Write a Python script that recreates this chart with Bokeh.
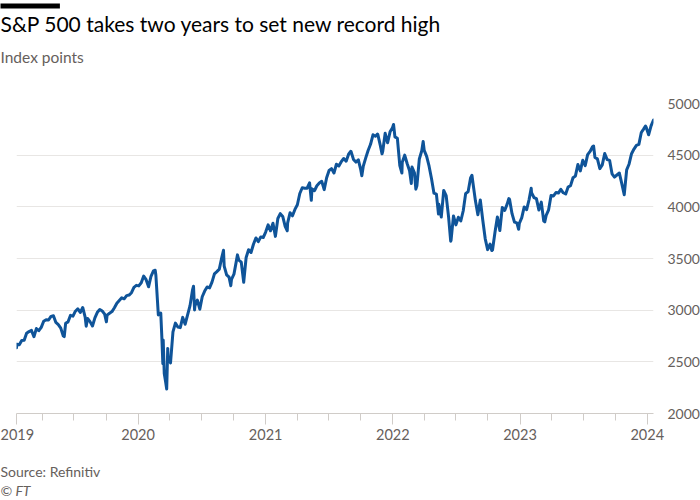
import pandas as pd
from bokeh.plotting import figure
from bokeh.models import (ColumnDataSource, Range1d, FixedTicker, NumeralTickFormatter, Title)
from bokeh.embed import file_html
from bokeh.resources import INLINE

# ---------------- data ----------------
title_text = "S&P 500 takes two years to set new record high"
subtitle_text = "Index points"
source_text = "Source: Refinitiv"
credit_text = "© FT"

# weekly (Friday) closes, starting 2019-01-18
weekly_start = "2019-01-18"
values_2019 = [2671, 2665, 2707, 2708, 2776, 2793, 2804, 2743, 2822, 2801, 2834, 2893, 2907,
               2905, 2940, 2946, 2881, 2860, 2826, 2752, 2873, 2887, 2950, 2942, 2990, 3014,
               2977, 3026, 2932, 2919, 2889, 2847, 2926, 2979, 3007, 2992, 2962, 2952, 2970,
               2986, 3023, 3067, 3093, 3120, 3110, 3141, 3146, 3169, 3221, 3240]
values_2020 = [3235, 3265, 3330, 3295, 3226, 3328, 3380, 3338, 2954, 2972, 2711, 2305, 2541,
               2489, 2790, 2875, 2837, 2831, 2930, 2864, 2955, 3044, 3194, 3041, 3098, 3009,
               3130, 3185, 3225, 3216, 3271, 3351, 3373, 3397, 3508, 3427, 3341, 3319, 3298,
               3348, 3477, 3484, 3465, 3270, 3510, 3585, 3558, 3638, 3699, 3663, 3709, 3703]
values_2021 = [3756, 3825, 3768, 3841, 3714, 3887, 3934, 3907, 3811, 3842, 3943, 3913, 3975,
               4020, 4129, 4185, 4180, 4181, 4233, 4174, 4156, 4204, 4230, 4247, 4166, 4281,
               4352, 4370, 4327, 4412, 4395, 4437, 4468, 4442, 4509, 4535, 4459, 4433, 4455,
               4357, 4391, 4471, 4545, 4605, 4697, 4683, 4698, 4595, 4538, 4712, 4620, 4726, 4766]
values_2022 = [4677, 4663, 4398, 4432, 4500, 4419, 4349, 4385, 4329, 4204, 4463, 4543, 4546,
               4488, 4393, 4272, 4132, 4123, 4024, 3901, 4158, 4109, 3901, 3675, 3912, 3825,
               3899, 3863, 3962, 4130, 4145, 4280, 4228, 4058, 3924, 4067, 3873, 3693, 3586,
               3640, 3583, 3752, 3901, 3771, 3993, 3965, 4026, 4072, 3934, 3852, 3845, 3840]
values_2023 = [3895, 3999, 3973, 4071, 4136, 4090, 4079, 3970, 4046, 3862, 3917, 3971, 4109,
               4105, 4138, 4133, 4169, 4136, 4124, 4192, 4205, 4282, 4299, 4410, 4348, 4450,
               4399, 4505, 4536, 4582, 4478, 4464, 4370, 4406, 4516, 4457, 4450, 4320, 4288,
               4308, 4327, 4224, 4117, 4358, 4415, 4514, 4559, 4595, 4604, 4719, 4755, 4770]
values_2024 = [4697, 4784, 4840]

# intra-week highs/lows visible on the chart
extra_dates = ["2019-01-17", "2019-06-03", "2019-08-05", "2019-10-02", "2020-02-19",
               "2020-03-09", "2020-03-12", "2020-03-16", "2020-03-23", "2020-03-26",
               "2020-06-08", "2020-06-11", "2020-09-02", "2020-09-23", "2020-10-12",
               "2021-03-04", "2021-05-12", "2021-09-02", "2021-10-04", "2021-11-18",
               "2021-12-01", "2022-01-03", "2022-01-27", "2022-02-23", "2022-03-08",
               "2022-03-29", "2022-05-12", "2022-06-16", "2022-08-16", "2022-10-12",
               "2022-11-30", "2022-12-28", "2023-02-02", "2023-03-13", "2023-07-31",
               "2023-12-27"]
extra_values = [2636, 2744, 2845, 2887, 3386, 2747, 2481, 2386, 2237, 2630,
                3232, 3002, 3580, 3237, 3535, 3768, 4063, 4537, 4300, 4705,
                4513, 4797, 4327, 4226, 4171, 4632, 3930, 3667, 4305, 3577,
                4080, 3783, 4180, 3855, 4589, 4782]

y_ticks = [2000, 2500, 3000, 3500, 4000, 4500, 5000]
x_tick_dates = ["2019-01-17", "2020-01-01", "2021-01-01", "2022-01-01", "2023-01-01", "2024-01-01"]
x_tick_labels = ["2019", "2020", "2021", "2022", "2023", "2024"]
x_minor_dates = ["2019-04-01", "2019-07-01", "2019-10-01", "2020-04-01", "2020-07-01",
                 "2020-10-01", "2021-04-01", "2021-07-01", "2021-10-01", "2022-04-01",
                 "2022-07-01", "2022-10-01", "2023-04-01", "2023-07-01", "2023-10-01"]

# ---------------- build table ----------------
weekly_values = values_2019 + values_2020 + values_2021 + values_2022 + values_2023 + values_2024
weekly_dates = pd.date_range(weekly_start, periods=len(weekly_values), freq="W-FRI")
df = pd.concat([
    pd.DataFrame({"date": weekly_dates, "value": weekly_values}),
    pd.DataFrame({"date": pd.to_datetime(extra_dates), "value": extra_values}),
]).sort_values("date").reset_index(drop=True)
source = ColumnDataSource(df)

def ms(d):
    return float(pd.Timestamp(d).timestamp() * 1000)

# ---------------- figure ----------------
FONT = "Lato"
GREY = "#66605c"
FL = 16

p = figure(frame_width=637, frame_height=310, x_axis_type="datetime", y_axis_location="right",
           x_range=Range1d(ms(df["date"].iloc[0]), ms(df["date"].iloc[-1])),
           y_range=Range1d(2000, 5000),
           min_border_left=16, min_border_right=47, min_border_top=103, min_border_bottom=87,
           output_backend="svg", toolbar_location=None, margin=0)
p.title_location = None
p.outline_line_color = None
p.background_fill_color = "white"
p.border_fill_color = "white"

p.line(x="date", y="value", source=source, line_width=3, line_color="#0f5499",
       line_join="round", line_cap="round")

# y axis (right)
yax = p.yaxis[0]
yax.ticker = FixedTicker(ticks=y_ticks)
yax.formatter = NumeralTickFormatter(format="0")
yax.axis_line_color = None
yax.major_tick_line_color = None
yax.minor_tick_line_color = None
yax.major_label_standoff = 8
yax.major_label_text_font = FONT
yax.major_label_text_font_size = "14px"
yax.major_label_text_color = GREY

p.ygrid.ticker = FixedTicker(ticks=y_ticks)
p.ygrid.grid_line_color = "#e8e6e4"
p.ygrid.grid_line_width = 1
p.xgrid.grid_line_color = None

# x axis
xax = p.xaxis[0]
xax.ticker = FixedTicker(ticks=[ms(d) for d in x_tick_dates],
                         minor_ticks=[ms(d) for d in x_minor_dates])
xax.major_label_overrides = {ms(d): lab for d, lab in zip(x_tick_dates, x_tick_labels)}
xax.axis_line_color = "#d0ccc8"
xax.major_tick_line_color = "#d0ccc8"
xax.minor_tick_line_color = "#d0ccc8"
xax.major_tick_in = 0
xax.major_tick_out = 11
xax.minor_tick_in = 0
xax.minor_tick_out = 7
xax.major_label_standoff = 4
xax.major_label_text_font = FONT
xax.major_label_text_font_size = "14.5px"
xax.major_label_text_color = GREY

# titles / notes in side panels (not clipped)
def ttl(text, size, color, style="normal", **kw):
    return Title(text=text, align="left", offset=-FL, standoff=0, text_font=FONT,
                 text_font_size=size, text_color=color, text_font_style=style,
                 vertical_align="bottom", **kw)

def spacer(size):
    return ttl("\u00a0", size, "white")

bar_t = ttl("\u00a0" * 58, "4px", "black", background_fill_color="black")
main_t = ttl(title_text, "21px", "#000000")
sub_t = ttl(subtitle_text, "15.5px", GREY)
# nearest to the frame first
for t in [spacer("30.2px"), sub_t, spacer("6.7px"), main_t, bar_t]:
    p.add_layout(t, "above")

src_t = ttl(source_text, "14px", GREY)
cred_t = ttl(credit_text, "14px", GREY, "italic")
for t in [spacer("13.4px"), src_t, cred_t]:
    p.add_layout(t, "below")

open("out.html", "w").write(file_html(p, INLINE))
